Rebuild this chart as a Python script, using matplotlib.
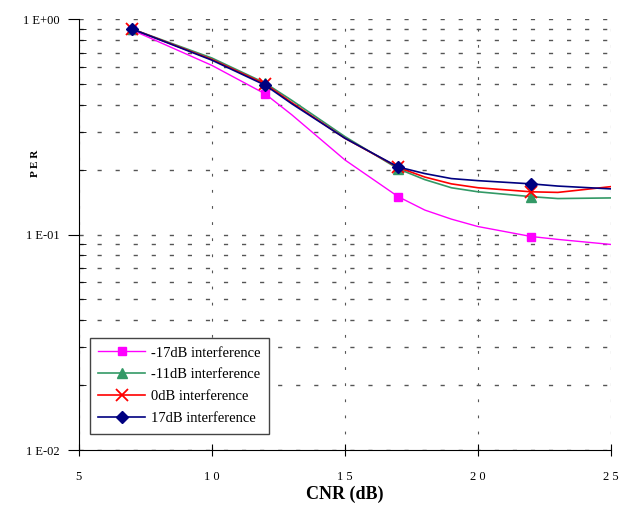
import matplotlib.pyplot as plt
from matplotlib.ticker import LogLocator, NullFormatter

# CNR points (dB)
cnr = [7, 10, 12, 13, 15, 17, 18, 19, 20, 22, 23, 25]
marker_idx = [0, 2, 5, 9]  # markers only at 7, 12, 17, 22 dB

per_m17 = [0.89, 0.61, 0.45, 0.36, 0.222, 0.150, 0.130, 0.118, 0.109, 0.098, 0.095, 0.090]
per_m11 = [0.90, 0.66, 0.505, 0.42, 0.285, 0.202, 0.180, 0.165, 0.158, 0.150, 0.147, 0.148]
per_0 = [0.90, 0.65, 0.50, 0.41, 0.28, 0.205, 0.185, 0.172, 0.165, 0.158, 0.157, 0.167]
per_17 = [0.90, 0.645, 0.494, 0.405, 0.28, 0.206, 0.192, 0.182, 0.178, 0.172, 0.168, 0.163]

labels = ['-17dB interference', '-11dB interference', '0dB interference', '17dB interference']
x_ticks = [5, 10, 15, 20, 25]
x_tick_labels = ['5', '1 0', '1 5', '2 0', '2 5']
y_ticks = [0.01, 0.1, 1]
y_tick_labels = ['1 E-02', '1 E-01', '1 E+00']

plt.rcParams['font.family'] = ['Liberation Serif', 'DejaVu Serif']

fig = plt.figure(figsize=(6.21, 5.32), dpi=100)
ax = fig.add_axes([0.127, 0.154, 0.857, 0.81])

ax.plot(cnr, per_m17, color='#FF00FF', lw=1, marker='s', ms=6, markevery=marker_idx, label=labels[0])
ax.plot(cnr, per_m11, color='#339966', lw=1.2, marker='^', ms=7, markevery=marker_idx, label=labels[1])
ax.plot(cnr, per_0, color='#FF0000', lw=1.2, marker='x', ms=8, mew=1.3, markevery=marker_idx, label=labels[2])
ax.plot(cnr, per_17, color='#000080', lw=1.2, marker='D', ms=6, markevery=marker_idx, label=labels[3])

ax.set_yscale('log')
ax.set_xlim(5, 25)
ax.set_ylim(0.01, 1)

ax.set_xticks(x_ticks)
ax.set_xticklabels(x_tick_labels, fontsize=9)
ax.set_yticks(y_ticks)
ax.set_yticklabels(y_tick_labels, fontsize=9)
ax.yaxis.set_minor_locator(LogLocator(base=10, subs=range(2, 10)))
ax.yaxis.set_minor_formatter(NullFormatter())

ax.tick_params(axis='x', which='major', direction='inout', length=8, pad=11)
ax.tick_params(axis='y', which='major', direction='out', length=8, pad=6)
ax.tick_params(axis='y', which='minor', direction='in', length=5)

# dashed grid
ax.grid(True, which='both', axis='y', color='#555555', lw=1, linestyle=(0, (3, 10)))
ax.grid(True, which='major', axis='x', color='#555555', lw=0.8, linestyle=(0, (2.5, 12)))

ax.spines['top'].set_visible(False)
ax.spines['right'].set_visible(False)

ax.set_ylabel('P E R', fontsize=8, fontweight='bold')
ax.yaxis.set_label_coords(-0.073, 0.666)
ax.set_xlabel('CNR (dB)', fontsize=13, fontweight='bold', labelpad=2)

leg = ax.legend(loc='lower left', bbox_to_anchor=(0.02, 0.037), borderaxespad=0, fontsize=10.5,
                frameon=True, fancybox=False, edgecolor='#444444', framealpha=1, handlelength=3.2,
                labelspacing=0.6, borderpad=0.6, handletextpad=0.4)
leg.get_frame().set_linewidth(1)

plt.savefig('out.png', dpi=100)
